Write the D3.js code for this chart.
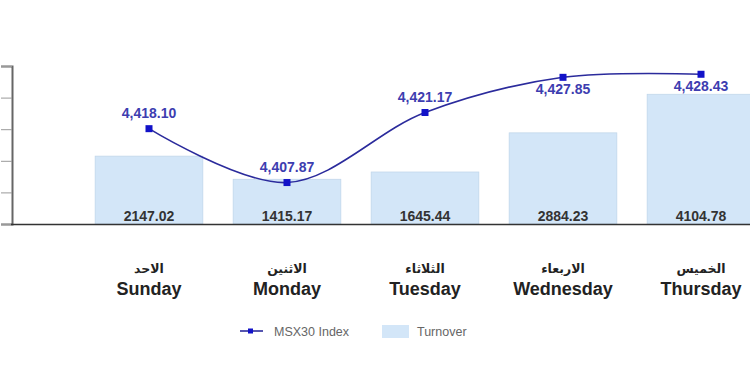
<!DOCTYPE html>
<html><head><meta charset="utf-8">
<script src="https://cdn.jsdelivr.net/npm/d3@7"></script>
<style>body{margin:0;background:#fff}svg{display:block}</style>
</head><body>
<svg id="c" width="750" height="372"></svg>
<script>
const daysEn = ["Sunday","Monday","Tuesday","Wednesday","Thursday"];
const daysAr = ["الاحد","الاثنين","الثلاثاء","الاربعاء","الخميس"];
const turnover = [2147.02,1415.17,1645.44,2884.23,4104.78];
const indexVals = [4418.10,4407.87,4421.17,4427.85,4428.43];
const turnoverTicks = [0,1000,2000,3000,4000,5000];
const labelBelow = [false,false,false,true,true];

const svg = d3.select("#c");
const x = d3.scaleBand().domain(daysEn).range([80,770]).paddingInner(0.22).paddingOuter(0.11);
const yT = d3.scaleLinear().domain([0,5000]).range([224,66]);
const yI = d3.scaleLinear().domain([4400,4430]).range([224,66]);

// bars
svg.append("g").selectAll("rect").data(turnover).join("rect")
  .attr("x",(d,i)=>x(daysEn[i])).attr("width",x.bandwidth())
  .attr("y",d=>yT(d)).attr("height",d=>yT(0)-yT(d))
  .attr("fill","#d3e6f8").attr("stroke","#c2d7ea").attr("stroke-width",0.8);

// bar labels
svg.append("g").selectAll("text").data(turnover).join("text")
  .attr("x",(d,i)=>x(daysEn[i])+x.bandwidth()/2).attr("y",221)
  .attr("text-anchor","middle").attr("font-family","Liberation Sans, Arial, sans-serif")
  .attr("font-weight","bold").attr("font-size",14).attr("fill","#333")
  .text(d=>d.toFixed(2));

// left axis
const ax = svg.append("g").attr("transform","translate(12,0)")
  .call(d3.axisLeft(yT).tickValues(turnoverTicks).tickSize(11).tickFormat(""));
ax.select(".domain").attr("stroke","#666").attr("stroke-width",2);
ax.selectAll(".tick line").attr("stroke","#999").attr("stroke-width",1);

// bottom axis line
svg.append("line").attr("x1",11).attr("x2",750).attr("y1",yT(0)+0.5).attr("y2",yT(0)+0.5)
  .attr("stroke","#333").attr("stroke-width",1.6);

// line
const cx = (d,i)=>x(daysEn[i])+x.bandwidth()/2;
const line = d3.line().x(cx).y(d=>yI(d)).curve(d3.curveCatmullRom.alpha(0.5));
svg.append("path").datum(indexVals).attr("d",line).attr("fill","none")
  .attr("stroke","#2b2b9c").attr("stroke-width",1.6);
svg.append("g").selectAll("rect").data(indexVals).join("rect")
  .attr("x",(d,i)=>cx(d,i)-3.5).attr("y",d=>yI(d)-3.5).attr("width",7).attr("height",7)
  .attr("fill","#1212c8");
svg.append("g").selectAll("text").data(indexVals).join("text")
  .attr("x",cx).attr("y",(d,i)=>labelBelow[i]? yI(d)+17 : yI(d)-11)
  .attr("text-anchor","middle").attr("font-family","Liberation Sans, Arial, sans-serif")
  .attr("font-weight","bold").attr("font-size",14).attr("fill","#3d3db0")
  .text(d=>d3.format(",.2f")(d));

// category labels
const cat = svg.append("g");
cat.selectAll("text.ar").data(daysAr).join("text").attr("class","ar")
  .attr("x",(d,i)=>x(daysEn[i])+x.bandwidth()/2).attr("y",273)
  .attr("text-anchor","middle").attr("font-family","DejaVu Sans, sans-serif")
  .attr("font-weight","bold").attr("font-size",12.5).attr("fill","#222").text(d=>d);
cat.selectAll("text.en").data(daysEn).join("text").attr("class","en")
  .attr("x",(d,i)=>x(daysEn[i])+x.bandwidth()/2).attr("y",295)
  .attr("text-anchor","middle").attr("font-family","Liberation Sans, Arial, sans-serif")
  .attr("font-weight","bold").attr("font-size",18).attr("fill","#222").text(d=>d);

// legend
const lg = svg.append("g");
lg.append("line").attr("x1",240).attr("x2",263).attr("y1",331).attr("y2",331).attr("stroke","#2b2b9c").attr("stroke-width",1.6);
lg.append("rect").attr("x",248).attr("y",328.5).attr("width",5).attr("height",5).attr("fill","#1212c8");
lg.append("text").attr("x",274).attr("y",335.5).attr("font-family","Liberation Sans, Arial, sans-serif")
  .attr("font-size",12.5).attr("fill","#666").text("MSX30 Index");
lg.append("rect").attr("x",382).attr("y",325).attr("width",27).attr("height",13).attr("fill","#d3e6f8");
lg.append("text").attr("x",417).attr("y",335.5).attr("font-family","Liberation Sans, Arial, sans-serif")
  .attr("font-size",12.5).attr("fill","#666").text("Turnover");
</script>
</body></html>
